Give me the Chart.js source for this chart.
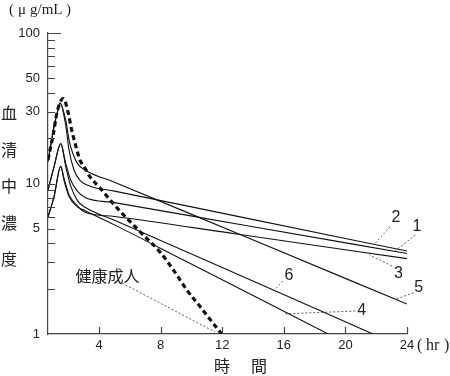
<!DOCTYPE html>
<html lang="ja">
<head>
  <meta charset="UTF-8">
  <title>血清中濃度</title>
  <style>
    body { margin: 0; background: #fff; }
    canvas { display: block; }
  </style>
  <script src="https://cdn.jsdelivr.net/npm/chart.js"></script>
</head>
<body>
  <canvas id="chart" width="450" height="376" style="width:450px;height:376px"></canvas>

  <script>
    // axis ticks
    const xTicks = [4, 8, 12, 16, 20, 24];
    const yTicks = [1, 2, 3, 4, 5, 6, 7, 8, 9, 10, 20, 30, 40, 50, 60, 70, 80, 90, 100];
    const yLabels = [1, 5, 10, 30, 50, 100];

    // serum concentration curves, [hour, µg/mL]
    const curve1 = [[0.68, 9.06], [1.07, 12.9], [1.51, 18.4], [1.83, 13.6], [2.16, 10.5], [2.59, 8.9], [3.09, 8.07], [5, 7.46], [13.16, 5.34], [24, 3.43]];
    const curve2 = [[0.68, 14.0], [1.07, 23.8], [1.29, 29.8], [1.46, 34.3], [1.83, 24.4], [2.05, 16.6], [2.37, 12.3], [2.76, 10.5], [3.41, 9.6], [5, 8.9], [13.16, 6.0], [24, 3.56]];
    const curve3 = [[0.68, 6.0], [1.07, 8.15], [1.51, 13.0], [1.72, 10.8], [2.05, 8.4], [2.59, 7.1], [3.09, 6.45], [5, 6.04], [13.16, 4.58], [24, 3.17]];
    const curve4 = [[0.68, 6.0], [1.07, 8.15], [1.51, 13.0], [1.72, 10.5], [2.05, 8.2], [2.59, 7.0], [3.09, 6.6], [5, 5.31], [9.48, 3.10], [18.88, 1.0]];
    const curve5 = [[0.68, 14.0], [1.07, 23.8], [1.29, 29.8], [1.46, 34.3], [1.83, 26.4], [2.05, 19.4], [2.26, 16.2], [2.59, 13.6], [3.02, 12.4], [5, 10.2], [13.16, 4.58], [24, 1.58]];
    const curve6 = [[0.68, 9.06], [1.07, 12.9], [1.51, 18.4], [1.83, 13.0], [2.16, 9.6], [2.59, 7.7], [3.09, 6.95], [5, 5.7], [10.89, 3.10], [21.79, 1.0]];
    const healthy = [[0.68, 14.4], [1.03, 21.5], [1.25, 29.2], [1.51, 35.4], [1.68, 36.7], [2.0, 29.2], [2.22, 22.6], [2.44, 18.5], [2.76, 14.3], [3.09, 12.6], [3.41, 11.07], [3.95, 9.6], [5.25, 6.73], [6.66, 4.78], [7.96, 3.50], [8.83, 2.66], [9.70, 1.96], [10.56, 1.52], [11.95, 1.0]];

    // callout labels: text position and leader line, in data units
    const callouts = [
      { text: '1', at: [24.65, 5.17], from: [24.54, 4.54], to: [23.24, 3.57] },
      { text: '2', at: [23.28, 5.93], from: [22.91, 5.16], to: [21.83, 3.90] },
      { text: '3', at: [23.45, 2.53], from: [23.02, 2.83], to: [21.57, 3.35] },
      { text: '4', at: [21.06, 1.42], from: [20.64, 1.42], to: [15.98, 1.36] },
      { text: '5', at: [24.76, 2.04], from: [24.43, 1.88], to: [23.24, 1.70] },
      { text: '6', at: [16.33, 2.46], from: [15.94, 2.25], to: [15.39, 1.96] },
      { text: '健康成人', at: [4.55, 2.45], from: [5.49, 2.18], to: [11.54, 1.03], cjk: true }
    ];

    const INK = '#111';
    const AXIS = '#444';
    const NUM_FONT = "'Liberation Sans', Arial, sans-serif";
    const CJK_FONT = "'Noto Sans CJK JP', sans-serif";
    const SERIF_FONT = "'Liberation Serif', 'DejaVu Serif', 'Noto Sans CJK JP', serif";

    const toPts = arr => arr.map(p => ({ x: p[0], y: p[1] }));
    const solid = arr => ({
      data: toPts(arr), showLine: true, pointRadius: 0, borderColor: INK,
      borderWidth: 1.1, cubicInterpolationMode: 'monotone', fill: false
    });

    // inward ticks, titles and callouts
    const decor = {
      id: 'decor',
      afterDraw(chart) {
        const { ctx, chartArea: a, scales: { x, y } } = chart;
        ctx.save();
        ctx.strokeStyle = AXIS;
        ctx.lineWidth = 1.2;
        ctx.beginPath();
        yTicks.forEach(v => {
          if (v === 1) return;
          const py = Math.round(y.getPixelForValue(v)) + 0.5;
          ctx.moveTo(a.left, py);
          ctx.lineTo(a.left + (v === 100 ? 13 : 7), py);
        });
        xTicks.forEach(v => {
          const px = Math.round(x.getPixelForValue(v)) + 0.5;
          ctx.moveTo(px, a.bottom);
          ctx.lineTo(px, a.bottom - 7);
        });
        ctx.stroke();

        // leader lines
        ctx.strokeStyle = '#333';
        ctx.lineWidth = 0.8;
        ctx.setLineDash([2, 2]);
        callouts.forEach(c => {
          ctx.beginPath();
          ctx.moveTo(x.getPixelForValue(c.from[0]), y.getPixelForValue(c.from[1]));
          ctx.lineTo(x.getPixelForValue(c.to[0]), y.getPixelForValue(c.to[1]));
          ctx.stroke();
        });
        ctx.setLineDash([]);

        ctx.fillStyle = '#222';
        ctx.textAlign = 'center';
        ctx.textBaseline = 'middle';
        callouts.forEach(c => {
          ctx.font = c.cjk ? '16px ' + CJK_FONT : '16px ' + NUM_FONT;
          ctx.fillText(c.text, x.getPixelForValue(c.at[0]), y.getPixelForValue(c.at[1]));
        });

        // y title, written top to bottom
        ctx.font = '16px ' + CJK_FONT;
        ['血', '清', '中', '濃', '度'].forEach((ch, i) => ctx.fillText(ch, 9, 113 + i * 36.5));

        // x title
        ctx.fillText('時', 222, 366);
        ctx.fillText('間', 259, 366);

        // units
        ctx.textAlign = 'left';
        ctx.font = '15px ' + SERIF_FONT;
        ctx.fillText('(', 9, 10);
        ctx.fillText('μ', 18, 10);
        ctx.fillText('g/mL', 30, 10);
        ctx.fillText(')', 66, 10);
        ctx.font = '16px ' + SERIF_FONT;
        ctx.fillText('(', 417, 346);
        ctx.fillText('hr', 426, 346);
        ctx.fillText(')', 444, 346);
        ctx.restore();
      }
    };

    new Chart(document.getElementById('chart'), {
      type: 'scatter',
      data: {
        datasets: [
          solid(curve1), solid(curve2), solid(curve3),
          solid(curve4), solid(curve5), solid(curve6),
          {
            data: toPts(healthy), showLine: true, pointRadius: 0, borderColor: INK,
            borderWidth: 3.2, borderDash: [5, 3.5], cubicInterpolationMode: 'monotone', fill: false
          }
        ]
      },
      options: {
        responsive: false,
        animation: false,
        layout: { padding: { top: 33, right: 43, left: 0, bottom: 0 } },
        plugins: { legend: { display: false }, tooltip: { enabled: false } },
        scales: {
          x: {
            type: 'linear', min: 0.68, max: 24,
            afterBuildTicks: s => { s.ticks = xTicks.map(v => ({ value: v })); },
            afterFit: s => { s.height = 42; },
            ticks: { autoSkip: false, maxRotation: 0, padding: 4, color: '#222',
                     font: { family: NUM_FONT, size: 13 }, callback: v => String(v) },
            grid: { display: false, drawTicks: false },
            border: { display: true, color: AXIS, width: 1.2 }
          },
          y: {
            type: 'logarithmic', min: 1, max: 100,
            afterBuildTicks: s => { s.ticks = yTicks.map(v => ({ value: v })); },
            afterFit: s => { s.width = 48; },
            ticks: { autoSkip: false, padding: 8, color: '#222',
                     font: { family: NUM_FONT, size: 13 },
                     callback: v => yLabels.includes(v) ? String(v) : '' },
            grid: { display: false, drawTicks: false },
            border: { display: true, color: AXIS, width: 1.2 }
          }
        }
      },
      plugins: [decor]
    });
  </script>
</body>
</html>
